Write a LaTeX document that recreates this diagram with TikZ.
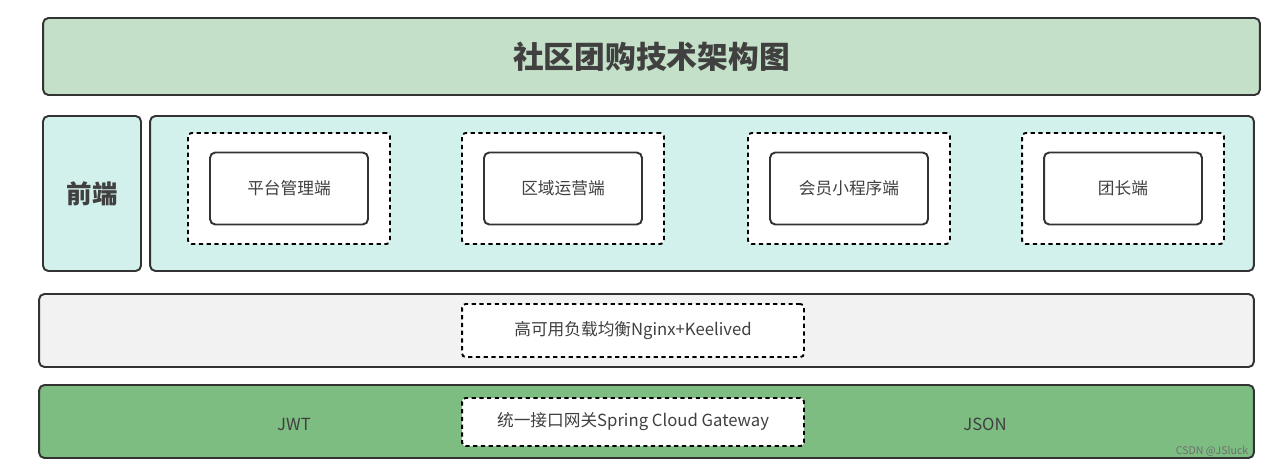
\documentclass[tikz,border=0pt]{standalone}
\usepackage{fontspec}
\setmainfont{Noto Sans CJK SC}
\usepackage{tikz}
\usetikzlibrary{positioning}
\definecolor{titlegreen}{HTML}{C5E0C8}
\definecolor{feblue}{HTML}{D2F0EC}
\definecolor{lbgray}{HTML}{F2F2F2}
\definecolor{gwgreen}{HTML}{7DBD82}
\definecolor{edge}{HTML}{333333}
\definecolor{txt}{HTML}{404040}
\definecolor{markgray}{HTML}{6E6E6E}

\begin{document}
\begin{tikzpicture}[x=0.02cm, y=-0.02cm,
            layer/.style={draw=edge, line width=1.1pt, rectangle, rounded corners=3pt, minimum width=24.3cm, minimum height=1.46cm, text=txt, font=\fontsize{9.5}{11}\selectfont},
            dashbox/.style={draw=black, fill=white, line width=1.1pt, dash pattern=on 2.4pt off 2pt, rectangle, rounded corners=2pt, text=txt, font=\fontsize{9.5}{11}\selectfont},
            app/.style={draw=edge, fill=white, line width=1.1pt, rectangle, rounded corners=3pt, minimum width=3.16cm, minimum height=1.44cm, text=txt, font=\fontsize{9.5}{11}\selectfont}
        ]
            \useasboundingbox (0,0) rectangle (1280,466);
            % title
            \node (title) [layer, fill=titlegreen, minimum width=24.34cm, minimum height=1.54cm, font=\fontsize{17.5}{20}\selectfont\bfseries] at (651.5,56.5) {社区团购技术架构图};
            % front end
            \node (fe) [layer, fill=feblue, minimum width=1.96cm, minimum height=3.1cm, font=\fontsize{14.5}{17}\selectfont\bfseries] at (92,193.5) {前端};
            \node (feback) [layer, fill=feblue, minimum width=22.08cm, minimum height=3.1cm] at (702,193.5) {};
            \node (platwrap) [dashbox, minimum width=4.04cm, minimum height=2.22cm] at (289,188.5) {};
            \node (regionwrap) [dashbox, minimum width=4.04cm, minimum height=2.22cm] at (563,188.5) {};
            \node (memberwrap) [dashbox, minimum width=4.04cm, minimum height=2.22cm] at (849,188.5) {};
            \node (leaderwrap) [dashbox, minimum width=4.04cm, minimum height=2.22cm] at (1123,188.5) {};
            \node (plat) [app] at (platwrap.center) {平台管理端};
            \node (region) [app] at (regionwrap.center) {区域运营端};
            \node (member) [app] at (memberwrap.center) {会员小程序端};
            \node (leader) [app] at (leaderwrap.center) {团长端};
            % load balancing
            \node (lb) [layer, fill=lbgray] at (646.5,330.5) {};
            \node (nginx) [dashbox, minimum width=6.84cm, minimum height=1.06cm] at (633,330.5) {高可用负载均衡Nginx+Keelived};
            % gateway
            \node (gw) [layer, fill=gwgreen] at (646.5,421.5) {};
            \node (gateway) [dashbox, minimum width=6.84cm, minimum height=0.96cm] at (633,422) {统一接口网关Spring Cloud Gateway};
            \node (jwt) [text=txt, font=\fontsize{9.5}{11}\selectfont] at (294,424) {JWT};
            \node (json) [text=txt, font=\fontsize{9.5}{11}\selectfont] at (985,424) {JSON};
            \node (mark) [text=markgray, font=\fontsize{6}{7}\selectfont] at (1212,451) {CSDN @JSluck};
        \end{tikzpicture}
\end{document}
